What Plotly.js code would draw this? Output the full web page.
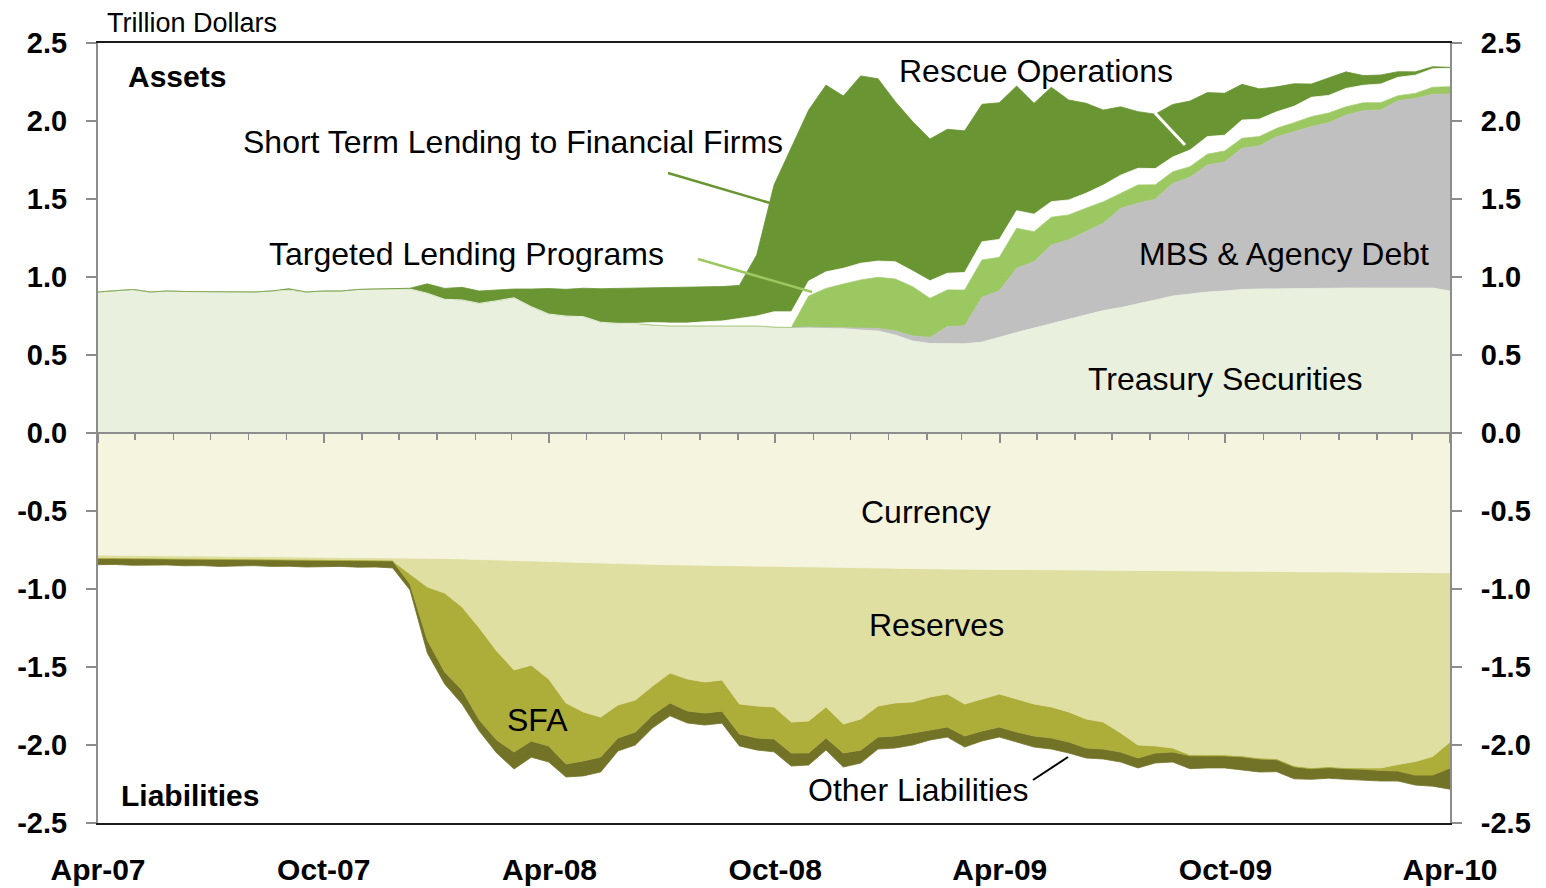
<!DOCTYPE html>
<html><head><meta charset="utf-8">
<script src="https://cdn.plot.ly/plotly-3.0.1.min.js"></script>
<style>html,body{margin:0;padding:0;background:#fff;}#chart{width:1546px;height:888px;}</style>
</head><body><div id="chart"></div>
<script>
// Regular bi-weekly grid, Apr-2007 .. Apr-2010 (79 points)
const startDate = '2007-04-01';
const endDate = '2010-04-01';
const nPoints = 79;

// ---- Assets (trillion dollars) ----
const treasury = [0.904,0.913,0.920,0.904,0.910,0.907,0.906,0.904,0.904,0.904,0.910,0.917,0.904,0.910,0.910,0.920,0.923,0.923,0.923,0.896,
0.857,0.853,0.831,0.848,0.867,0.810,0.763,0.750,0.746,0.710,0.703,0.703,0.692,0.686,0.686,0.689,0.689,0.689,0.686,0.679,
0.676,0.676,0.673,0.670,0.660,0.654,0.628,0.590,0.574,0.571,0.572,0.583,0.615,0.644,0.673,0.702,0.728,0.760,0.785,0.804,
0.827,0.853,0.878,0.891,0.904,0.910,0.920,0.923,0.925,0.926,0.928,0.929,0.929,0.929,0.929,0.929,0.929,0.929,0.910];
const mbsAgency = [0,0,0,0,0,0,0,0,0,0,0,0,0,0,0,0,0,0,0,0,
0,0,0,0,0,0,0,0,0,0,0,0,0,0,0,0,0,0,0,0,
0,0.003,0.004,0.006,0.010,0.016,0.026,0.032,0.038,0.111,0.115,0.287,0.297,0.412,0.425,0.503,0.510,0.531,0.559,0.636,
0.646,0.646,0.722,0.748,0.814,0.827,0.905,0.917,0.974,1.005,1.036,1.060,1.109,1.137,1.141,1.201,1.216,1.242,1.263];
const targetedLending = [0,0,0,0,0,0,0,0,0,0,0,0,0,0,0,0,0,0,0,0,
0,0,0,0,0,0,0,0,0,0,0,0,0,0,0,0,0,0,0,0,
0,0.199,0.250,0.279,0.311,0.328,0.333,0.316,0.251,0.235,0.229,0.239,0.214,0.256,0.192,0.178,0.160,0.150,0.138,0.096,
0.117,0.092,0.074,0.068,0.069,0.071,0.064,0.060,0.054,0.058,0.064,0.062,0.053,0.051,0.047,0.032,0.032,0.045,0.047];
const rescueOps = [0,0,0,0,0,0,0,0,0,0,0,0,0,0,0,0,0,0,0,0,
0,0,0,0,0,0,0,0,0,0,0,0,0.016,0.019,0.019,0.024,0.029,0.045,0.064,0.098,
0.101,0.096,0.106,0.101,0.107,0.104,0.111,0.100,0.113,0.107,0.113,0.117,0.115,0.113,0.113,0.100,0.096,0.096,0.107,0.117,
0.107,0.104,0.095,0.107,0.113,0.101,0.117,0.112,0.106,0.105,0.124,0.113,0.118,0.112,0.120,0.118,0.117,0.119,0.118];
const shortTermLending = [0,0,0,0,0,0,0,0,0,0,0,0.008,0,0,0,0,0,0.003,0.005,0.060,
0.070,0.081,0.079,0.069,0.056,0.113,0.163,0.171,0.182,0.215,0.224,0.228,0.224,0.231,0.233,0.224,0.221,0.212,0.391,0.812,
1.054,1.096,1.197,1.104,1.201,1.169,1.026,0.958,0.908,0.923,0.908,0.881,0.876,0.799,0.710,0.733,0.641,0.577,0.481,0.438,
0.363,0.349,0.337,0.314,0.282,0.269,0.229,0.194,0.160,0.145,0.085,0.113,0.106,0.062,0.058,0.036,0.021,0.013,0.006];

// ---- Liabilities (trillion dollars, drawn below zero) ----
const currency = [0.782,0.783,0.784,0.785,0.786,0.787,0.788,0.789,0.789,0.790,0.791,0.792,0.793,0.794,0.795,0.796,0.797,0.798,0.799,0.801,
0.804,0.807,0.811,0.814,0.817,0.821,0.824,0.827,0.830,0.834,0.837,0.840,0.842,0.844,0.846,0.847,0.849,0.851,0.853,0.855,
0.856,0.858,0.859,0.861,0.863,0.865,0.867,0.869,0.870,0.872,0.874,0.874,0.875,0.875,0.876,0.876,0.876,0.877,0.877,0.878,
0.878,0.879,0.880,0.881,0.882,0.883,0.884,0.885,0.886,0.887,0.888,0.889,0.890,0.891,0.892,0.893,0.894,0.895,0.896];
const reserves = [0.022,0.022,0.022,0.022,0.022,0.022,0.022,0.022,0.022,0.022,0.022,0.022,0.022,0.022,0.022,0.022,0.022,0.022,0.105,0.186,
0.222,0.308,0.439,0.583,0.702,0.667,0.753,0.904,0.958,0.987,0.906,0.872,0.779,0.694,0.731,0.749,0.735,0.886,0.897,0.901,
0.997,0.988,0.897,1.004,0.971,0.885,0.863,0.855,0.822,0.801,0.863,0.831,0.798,0.830,0.861,0.880,0.912,0.956,0.976,1.045,
1.122,1.127,1.139,1.182,1.182,1.181,1.186,1.199,1.202,1.247,1.260,1.252,1.258,1.256,1.255,1.232,1.212,1.179,1.085];
const sfa = [0,0,0,0,0,0,0,0,0,0,0,0,0,0,0,0,0,0,0.064,0.340,
0.506,0.532,0.590,0.571,0.526,0.487,0.429,0.391,0.314,0.256,0.212,0.205,0.186,0.192,0.205,0.199,0.199,0.192,0.205,0.205,
0.199,0.205,0.199,0.186,0.199,0.199,0.212,0.199,0.212,0.212,0.205,0.205,0.212,0.212,0.205,0.199,0.192,0.186,0.173,0.122,
0.083,0.045,0.026,0.006,0.006,0.006,0.006,0.006,0.006,0.006,0.004,0.004,0.004,0.008,0.016,0.042,0.087,0.119,0.167];
const otherLiab = [0.040,0.038,0.042,0.040,0.038,0.042,0.040,0.044,0.040,0.038,0.042,0.040,0.044,0.040,0.038,0.042,0.040,0.045,0.038,0.083,
0.077,0.090,0.071,0.083,0.109,0.103,0.103,0.083,0.096,0.096,0.083,0.083,0.083,0.083,0.077,0.077,0.077,0.077,0.077,0.083,
0.083,0.077,0.077,0.090,0.083,0.077,0.077,0.077,0.064,0.064,0.071,0.064,0.064,0.064,0.071,0.071,0.071,0.064,0.064,0.064,
0.064,0.064,0.064,0.083,0.077,0.077,0.083,0.083,0.077,0.077,0.068,0.068,0.068,0.071,0.068,0.064,0.064,0.071,0.135];

const yTickVals = [2.5,2,1.5,1,0.5,0,-0.5,-1,-1.5,-2,-2.5];
const yTickText = ['2.5','2.0','1.5','1.0','0.5','0.0','-0.5','-1.0','-1.5','-2.0','-2.5'];

const t0 = Date.parse(startDate + 'T00:00:00Z');
const t1 = Date.parse(endDate + 'T00:00:00Z');
const dates = Array.from({length: nPoints}, (_, i) =>
  new Date(t0 + (t1 - t0) * i / (nPoints - 1)).toISOString().slice(0, 19).replace('T', ' '));

const FONT = 'Liberation Sans, Arial, sans-serif';
const C = {
  treasury:'#e9f1de', mbs:'#c0c0c0', tl:'#9cc862', rescue:'#ffffff', stl:'#6a9533',
  currency:'#f5f5df', reserves:'#e0dfa2', sfa:'#adad3a', other:'#737328'
};

function area(vals, color, group, neg) {
  return {
    x: dates, y: neg ? vals.map(v => -v) : vals,
    type: 'scatter', mode: 'lines', stackgroup: group,
    line: {width: 0.8, color: color, shape: 'linear'},
    fillcolor: color, hoverinfo: 'skip', showlegend: false
  };
}

const traces = [
  area(treasury, C.treasury, 'assets'),
  area(mbsAgency, C.mbs, 'assets'),
  area(targetedLending, C.tl, 'assets'),
  area(rescueOps, C.rescue, 'assets'),
  area(shortTermLending, C.stl, 'assets'),
  area(currency, C.currency, 'liab', true),
  area(reserves, C.reserves, 'liab', true),
  area(sfa, C.sfa, 'liab', true),
  area(otherLiab, C.other, 'liab', true),
  {x: [dates[0]], y: [null], xaxis: 'x2', yaxis: 'y2', mode: 'lines', hoverinfo: 'skip', showlegend: false}
];

const px = x => (x - 98) / 1352;
const py = y => (823 - y) / 780;

function label(text, x, y, size, opts) {
  return Object.assign({
    xref: 'paper', yref: 'paper', x: px(x), y: py(y), text: text, showarrow: false,
    xanchor: 'center', yanchor: 'middle',
    font: {family: FONT, size: size, color: '#000'}
  }, opts || {});
}

const annotations = [
  label('Trillion Dollars', 105, 23, 27, {xanchor: 'left'}),
  label('Assets', 126, 77, 30, {xanchor: 'left', font: {family: FONT, size: 30, color: '#000', weight: 'bold'}}),
  label('Liabilities', 119, 795, 30, {xanchor: 'left', font: {family: FONT, size: 30, color: '#000', weight: 'bold'}}),
  label('Short Term Lending to Financial Firms', 512.5, 142, 32),
  label('Rescue Operations', 1036, 71, 32),
  label('Targeted Lending Programs', 467, 254, 32),
  label('MBS &amp; Agency Debt', 1284, 254, 32),
  label('Treasury Securities', 1225, 379, 32),
  label('Currency', 926, 512, 32),
  label('Reserves', 936.5, 625, 32),
  label('SFA', 537.5, 720, 32),
  label('Other Liabilities', 918, 790, 32)
];

function seg(x0, y0, x1, y1, color, w) {
  return {type: 'line', xref: 'paper', yref: 'paper', x0: px(x0), y0: py(y0), x1: px(x1), y1: py(y1),
    line: {color: color, width: w}, layer: 'above'};
}
const shapes = [
  seg(668, 173, 770, 203, C.stl, 2.5),
  seg(698, 259, 812, 292, C.tl, 2.5),
  seg(1155, 113, 1185, 145, '#ffffff', 3),
  seg(1033, 780, 1068, 757, '#000000', 2)
];

const yAxisBase = {
  range: [-2.5, 2.5], tickvals: yTickVals, ticktext: yTickText,
  ticks: 'outside', ticklen: 10, tickwidth: 2, tickcolor: '#8c8c8c',
  showline: true, linecolor: '#8c8c8c', linewidth: 2,
  showgrid: false, zeroline: false, fixedrange: true,
  tickfont: {family: FONT, size: 29, color: '#000', weight: 'bold'},
  ticklabelstandoff: 13
};

const layout = {
  width: 1546, height: 888,
  margin: {l: 98, r: 96, t: 43, b: 65, pad: 0},
  paper_bgcolor: '#ffffff', plot_bgcolor: '#ffffff',
  showlegend: false,
  font: {family: FONT, color: '#000'},
  xaxis: {
    type: 'date', range: [startDate, endDate],
    showline: true, linecolor: '#1a1a1a', linewidth: 2, mirror: true,
    ticks: 'outside', ticklen: 19, tickcolor: 'rgba(0,0,0,0)',
    tick0: '2007-04-01', dtick: 'M6', tickformat: '%b-%y',
    tickfont: {family: FONT, size: 30, color: '#000', weight: 'bold'},
    showgrid: false, zeroline: false, fixedrange: true
  },
  xaxis2: {
    type: 'date', range: [startDate, endDate], overlaying: 'x', anchor: 'free', position: 0.5, side: 'bottom',
    showline: true, linecolor: '#8c8c8c', linewidth: 2,
    ticks: 'outside', ticklen: 9, tickwidth: 2, tickcolor: '#8c8c8c',
    tick0: '2007-04-01', dtick: 'M6', showticklabels: false,
    minor: {tick0: '2007-04-01', dtick: 'M1', ticks: 'outside', ticklen: 6, tickwidth: 1.5, tickcolor: '#8c8c8c'},
    showgrid: false, zeroline: false, fixedrange: true
  },
  yaxis: Object.assign({}, yAxisBase, {side: 'left'}),
  yaxis2: Object.assign({}, yAxisBase, {side: 'right', overlaying: 'y', anchor: 'x'}),
  annotations: annotations,
  shapes: shapes
};

Plotly.newPlot('chart', traces, layout, {staticPlot: true, displayModeBar: false});
</script>
</body></html>
